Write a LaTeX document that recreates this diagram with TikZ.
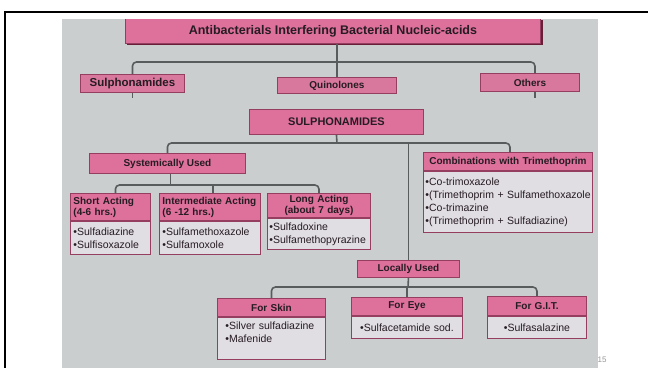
\documentclass[tikz,border=0pt]{standalone}
\usepackage{fontspec}
\setmainfont{Liberation Sans}
\definecolor{photo}{RGB}{203,206,206}
\definecolor{pinkA}{RGB}{222,112,156}
\definecolor{pinkB}{RGB}{216,120,156}
\definecolor{bodyc}{RGB}{224,222,227}
\definecolor{bord}{RGB}{150,62,96}
\definecolor{linec}{RGB}{88,92,92}
\definecolor{shadowc}{RGB}{105,30,55}
\definecolor{txt}{RGB}{38,28,34}
\definecolor{pgnum}{RGB}{150,150,150}
\begin{document}
\begin{tikzpicture}[x=1pt,y=-1pt,
  conn/.style={draw=linec, line width=1.6pt, rounded corners=4pt},
  small/.style={draw=bord, fill=pinkB, line width=0.9pt, inner sep=0pt, text=txt,
    font=\bfseries\fontsize{10}{12}\selectfont, anchor=north west},
  hdr/.style={draw=bord, fill=pinkA, line width=0.9pt, inner sep=0pt, inner xsep=3pt, text=txt,
    font=\bfseries\fontsize{10}{11}\selectfont, anchor=north west},
  bod/.style={draw=bord, fill=bodyc, line width=0.9pt, inner sep=0pt, inner xsep=3pt, text=txt,
    font=\fontsize{10.5}{13}\selectfont, anchor=north west, align=left},
]
\useasboundingbox (0,0) rectangle (648,368);
\draw[black, line width=2pt] (648,12) -- (5,12) -- (5,368);
\fill[photo] (62,19) rectangle (598,368);
\begin{scope}
\clip (62,19) rectangle (598,368);
% title
\fill[shadowc] (127,20) rectangle (542.5,44.5);
\node[small, fill=pinkA, minimum width=415pt, minimum height=25pt,
  font=\bfseries\fontsize{12.5}{14}\selectfont] (title) at (125,18) {Antibacterials Interfering Bacterial Nucleic-acids};
% first level
\node[small, minimum width=104pt, minimum height=18pt, font=\bfseries\fontsize{11.5}{13}\selectfont] (sul) at (80,74) {Sulphonamides};
\node[small, minimum width=119pt, minimum height=16pt] (quin) at (277,77) {Quinolones};
\node[small, minimum width=99pt, minimum height=18pt] (oth) at (480,73) {Others};
\coordinate (b1) at (337,62);
\draw[conn] (quin.north |- title.south) -- (quin.north);
\draw[conn] (sul.north) |- (b1) -| ([xshift=5pt]oth.north);
\draw[conn] (sul.south) -- ++(0,5);
\draw[conn] ([xshift=5pt]oth.south) -- ++(0,6);
% SULPHONAMIDES
\node[small, fill=pinkA, minimum width=174pt, minimum height=25pt,
  font=\bfseries\fontsize{11}{13}\selectfont] (sulph) at (249,109) {SULPHONAMIDES};
\node[small, fill=pinkA, minimum width=156pt, minimum height=20pt,
  font=\bfseries\fontsize{10}{11}\selectfont] (sys) at (89,153) {Systemically Used};
\node[hdr, minimum width=169pt, minimum height=18pt, text width=163pt, align=center] (comb) at (423,152) {Combinations with Trimethoprim};
\node[bod, minimum width=169pt, minimum height=61pt, inner xsep=2pt, text width=165pt] (combb) at (comb.south west)
  {•Co-trimoxazole\\\mbox{•(Trimethoprim + Sulfamethoxazole}\\•Co-trimazine\\•(Trimethoprim + Sulfadiazine)};
\node[small, fill=pinkA, minimum width=102pt, minimum height=17pt,
  font=\bfseries\fontsize{10}{11}\selectfont] (loc) at (357,260) {Locally Used};
\coordinate (b2) at (337,143);
\draw[conn] (sulph.south) -- (b2);
\draw[conn] (sys.north) |- (b2) -| ([xshift=2pt]comb.north);
\draw[conn] (loc.north |- b2) -- (loc.north);
% systemic
\node[hdr, minimum width=80pt, minimum height=27pt, text width=74pt, align=left] (sa) at (70,193) {Short Acting\\(4-6 hrs.)};
\node[bod, minimum width=80pt, minimum height=33pt, text width=74pt] (sab) at (sa.south west) {•Sulfadiazine\\•Sulfisoxazole};
\node[hdr, minimum width=101pt, minimum height=27pt, text width=95pt, align=left] (ia) at (159,193) {\mbox{Intermediate Acting}\\(6 -12 hrs.)};
\node[bod, minimum width=101pt, minimum height=33pt, text width=95pt] (iab) at (ia.south west) {•Sulfamethoxazole\\•Sulfamoxole};
\node[hdr, minimum width=103pt, minimum height=24pt, text width=97pt, align=center] (la) at (267,193) {Long Acting\\(about 7 days)};
\node[bod, minimum width=103pt, minimum height=31pt, inner xsep=2pt, text width=99pt] (lab) at (la.south west) {•Sulfadoxine\\\mbox{•Sulfamethopyrazine}};
\coordinate (b3) at (213,185);
\draw[conn] ([xshift=3pt]sys.south) -- ([xshift=3pt]sys.south |- b3);
\draw[conn] ([xshift=5pt]sa.north) |- (b3) -| (la.north);
\draw[conn] ([xshift=3pt]ia.north |- b3) -- ([xshift=3pt]ia.north);
% local
\node[hdr, minimum width=108pt, minimum height=18pt, text width=102pt, align=center] (skin) at (217,298) {For Skin};
\node[bod, minimum width=108pt, minimum height=42pt, inner xsep=8pt, text width=92pt] (skinb) at (skin.south west) {•Silver sulfadiazine\\•Mafenide\\\mbox{}};
\node[hdr, minimum width=111pt, minimum height=18pt, text width=105pt, align=center] (eye) at (351,297) {For Eye};
\node[bod, minimum width=111pt, minimum height=22pt, text width=105pt, align=center] (eyeb) at (eye.south west) {•Sulfacetamide sod.};
\node[hdr, minimum width=99pt, minimum height=19pt, text width=93pt, align=center] (git) at (487,296) {For G.I.T.};
\node[bod, minimum width=99pt, minimum height=22pt, text width=93pt, align=center] (gitb) at (git.south west) {•Sulfasalazine};
\coordinate (b4) at (408,287);
\draw[conn] (loc.south) -- (b4);
\draw[conn] (skin.north) |- (b4) -| (git.north);
\draw[conn] (eye.north |- b4) -- (eye.north);
\end{scope}
\node[text=pgnum, inner sep=0pt, font=\fontsize{8}{9}\selectfont] (pg) at (602,360) {15};
\end{tikzpicture}
\end{document}
